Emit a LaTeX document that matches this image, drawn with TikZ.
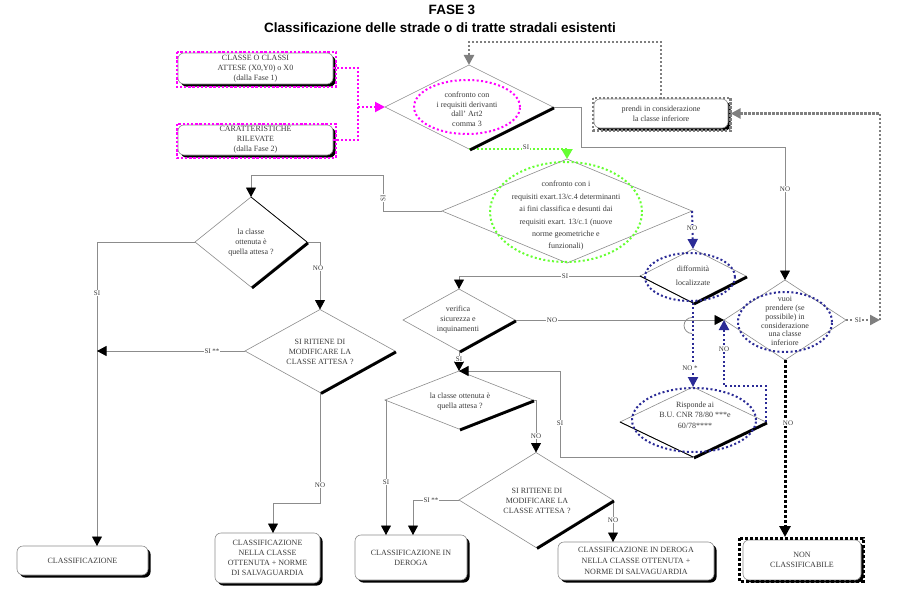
\documentclass[tikz,border=0pt]{standalone}
\usepackage{fontspec}
\setmainfont{Liberation Serif}
\newfontfamily\headfont{Liberation Sans}
\usetikzlibrary{arrows.meta,shapes.geometric,shadows,calc}

\definecolor{wire}{HTML}{8C8C8C}
\definecolor{ink}{HTML}{3A3A3A}
\definecolor{magdot}{HTML}{FF00FF}
\definecolor{grndot}{HTML}{66FF33}
\definecolor{bludot}{HTML}{2B2B96}
\definecolor{grydot}{HTML}{7F7F7F}

\tikzset{
  txt/.style={align=center, text=ink, inner sep=0pt, font=\fontsize{8}{#1}\selectfont},
  txt/.default=10,
  dia/.style 2 args={diamond, draw=wire, line width=0.6pt, minimum width=#1pt,
    minimum height=#2pt, inner sep=0pt, outer sep=0pt},
  box/.style 2 args={rectangle, rounded corners=6pt, draw=wire, line width=0.6pt,
    fill=white, minimum width=#1pt, minimum height=#2pt, inner sep=0pt, outer sep=0pt,
    align=center, text=ink, font=\fontsize{8}{10}\selectfont,
    drop shadow={shadow xshift=2.6pt, shadow yshift=-2.6pt, fill=black, opacity=1}},
  oval/.style 2 args={ellipse, minimum width=#1pt, minimum height=#2pt, inner sep=0pt,
    line width=2pt, dash pattern=on 2pt off 2.4pt},
  heavy/.style={line width=2.8pt, black},
  wireline/.style={draw=wire, line width=0.8pt},
  blackhead/.style={-{Triangle[length=9.5pt,width=10pt,color=black]}},
  magline/.style={draw=magdot, line width=2pt, dash pattern=on 2pt off 2pt},
  maghead/.style={-{Triangle[length=10pt,width=10pt,color=magdot]}},
  grnline/.style={draw=grndot, line width=2pt, dash pattern=on 2pt off 2pt},
  grnhead/.style={-{Triangle[length=10pt,width=11pt,color=grndot]}},
  bluline/.style={draw=bludot, line width=2pt, dash pattern=on 2pt off 2.4pt},
  bluhead/.style={-{Triangle[length=10pt,width=10pt,color=bludot]}},
  gryline/.style={draw=grydot, line width=2.4pt, dash pattern=on 2.4pt off 1.6pt},
  gryhead/.style={-{Triangle[length=10pt,width=10pt,color=grydot]}},
  blkline/.style={draw=black, line width=3pt, dash pattern=on 3pt off 2pt},
  blkhead/.style={-{Triangle[length=11pt,width=11pt,color=black]}},
  lbl/.style={fill=white, inner sep=0.8pt, text=ink, font=\fontsize{7}{8}\selectfont},
}

\begin{document}
\begin{tikzpicture}[x=1pt,y=-1pt]
\useasboundingbox (0,0) rectangle (920,591);

% ---------- title ----------
\node[font=\headfont\bfseries\fontsize{13.5}{15}\selectfont] (title) at (452,10) {FASE 3};
\node[font=\headfont\bfseries\fontsize{13.5}{15}\selectfont] (subtitle) at (440,28) {Classificazione delle strade o di tratte stradali esistenti};

% ---------- decision diamonds ----------
\node[dia={168}{84}]  (D1)  at (469,107) {};
\node[dia={250}{104}] (D2)  at (567,211) {};
\node[dia={112}{90}]  (D3)  at (251,242) {};
\node[dia={150}{83}]  (D4)  at (320,351) {};
\node[dia={112}{62}]  (D5)  at (459,320) {};
\node[dia={148}{58}]  (D6)  at (459,400) {};
\node[dia={154}{95}]  (D7)  at (536,500) {};
\node[dia={122}{80}]  (D8)  at (785,320) {};
\node[dia={106}{54}]  (D9)  at (693,276) {};
\node[dia={146}{70}]  (D10) at (693,422) {};

% ---------- rounded boxes ----------
\node[box={155}{31}] (A) at (255.5,68.5) {CLASSE O CLASSI\\ATTESE (X0,Y0) o X0\\(dalla Fase 1)};
\node[box={155}{30}] (B) at (255.5,140) {CARATTERISTICHE\\RILEVATE\\(dalla Fase 2)};
\node[box={134}{29}] (P) at (661,113.5) {prendi in considerazione\\la classe inferiore};
\node[box={131}{29}] (CL1) at (82.5,560.5) {CLASSIFICAZIONE};
\node[box={105}{50}] (CL2) at (267.5,558) {CLASSIFICAZIONE\\NELLA CLASSE\\OTTENUTA + NORME\\DI SALVAGUARDIA};
\node[box={112}{45}] (DER) at (411,557.5) {CLASSIFICAZIONE IN\\DEROGA};
\node[box={156}{38}, font=\fontsize{8}{11}\selectfont] (B4) at (636,561) {CLASSIFICAZIONE IN DEROGA\\NELLA CLASSE OTTENUTA +\\NORME DI SALVAGUARDIA};
\node[box={118}{40}] (NON) at (802,560) {NON\\CLASSIFICABILE};

% dotted frames around some boxes
\draw[magline, line width=2.4pt, dash pattern=on 2.4pt off 1.8pt]
  ($(A.north west)+(-1,-1)$) rectangle ($(A.south east)+(3,3)$);
\draw[magline, line width=2.4pt, dash pattern=on 2.4pt off 1.8pt]
  ($(B.north west)+(-1,-1)$) rectangle ($(B.south east)+(3,3)$);
\draw[gryline] ($(P.north west)+(-1,-1)$) rectangle ($(P.south east)+(2.5,2.5)$);
\draw[blkline] ($(NON.north west)+(-4,-2)$) rectangle ($(NON.south east)+(2,1)$);

% ---------- connectors ----------
\coordinate (J) at (358,107);
\draw[magline] (A.east) -| (J);
\draw[magline] (B.east) -| (J);
\draw[magline, maghead] (J) -- (D1.west);

\coordinate (L1) at (661,42);
\draw[gryline, gryhead] (P.north) -- (L1) -| (D1.north);
\coordinate (R1) at (880,320);
\draw[gryline, gryhead] (D8.east) -- (R1);
\draw[gryline, gryhead] (R1) |- ($(P.east)+(2.6,0)$);

\coordinate (N1) at (581,147);
\draw[wireline, blackhead] (D1.east) -| (N1) -| (D8.north);

\draw[grnline, grnhead] (D1.south) -- (D1.south -| D2.north) -- (D2.north);

\coordinate (S2) at (383,175);
\draw[wireline, blackhead] (D2.west) -| (S2) -| (D3.north);

\coordinate (C1in) at (97,546);
\draw[wireline, blackhead] (D3.west) -| (C1in);
\draw[wireline, blackhead] (D3.east) -| (D4.north);
\draw[wireline, blackhead] (D4.west) -- (D4.west -| C1in);

\coordinate (C2in) at (273,533);
\coordinate (C2k) at (273,503);
\draw[wireline, blackhead] (D4.south) |- (C2k) -- (C2in);

\draw[bluline, bluhead] (D2.east) -- (D9.north);
\draw[wireline, blackhead] (D9.west) -| (D5.north);
\draw[wireline, blackhead] (D5.east) -- (D8.west);
\draw[wireline] (692,317.5) arc[start angle=270, end angle=90, radius=8];
\draw[bluline, bluhead] (D9.south) -- (D10.north);

\coordinate (B1) at (724,386);
\draw[bluline, bluhead] (D10.east) |- (B1) -- (D8.west);

\coordinate (Nin) at (785,537);
\draw[blkline, blkhead] (D8.south) -- (Nin);

\coordinate (S10) at (560,371);
\draw[wireline, blackhead] (D10.south) -| (S10) -- (D6.north);
\draw[wireline, blackhead] (D5.south) -- (D6.north);

\coordinate (Din1) at (386,535);
\draw[wireline, blackhead] (D6.west) -| (Din1);
\draw[wireline, blackhead] (D6.east) -| (D7.north);
\coordinate (Din2) at (413,535);
\draw[wireline, blackhead] (D7.west) -| (Din2);
\coordinate (B4in) at (613,542);
\draw[wireline, blackhead] (D7.east) -| (B4in);

% ---------- shaded diamond edges ----------
\foreach \d in {D1,D3,D4,D5,D6,D7,D9,D10}
  \draw[heavy] ([shift={(1,1)}]\d.east) -- ([shift={(1,1)}]\d.south);
\draw[black, line width=0.9pt] (D9.west) -- (D9.south);
\draw[black, line width=0.9pt] (D10.west) -- (D10.south);
\draw[black, line width=0.7pt] (D3.north) -- (D3.east);

% ---------- dotted ovals ----------
\node[oval={106}{54}, draw=magdot]  (E1)  at (467,107) {};
\node[oval={152}{100}, draw=grndot] (E2)  at (566,212) {};
\node[oval={94}{60}, draw=bludot]   (E8)  at (785,322) {};
\node[oval={90}{48}, draw=bludot]   (E9)  at (690,277) {};
\node[oval={124}{64}, draw=bludot]  (E10) at (694,420) {};

% ---------- diamond texts ----------
\node[txt=9.5]  (T1)  at (467,109) {confronto con\\i requisiti derivanti\\dall' Art2\\comma 3};
\node[txt=12.4] (T2)  at (566,216) {confronto con i\\requisiti exart.13/c.4 determinanti\\ai fini classifica e desunti dai\\requisiti exart. 13/c.1 (nuove\\norme geometriche e\\funzionali)};
\node[txt=10]   (T3)  at (251,243) {la classe\\ottenuta è\\quella attesa ?};
\node[txt=10]   (T4)  at (320,352) {SI RITIENE DI\\MODIFICARE LA\\CLASSE ATTESA ?};
\node[txt=10]   (T5)  at (458,320) {verifica\\sicurezza e\\inquinamenti};
\node[txt=10]   (T6)  at (460,402) {la classe ottenuta è\\quella attesa ?};
\node[txt=10]   (T7)  at (537,501) {SI RITIENE DI\\MODIFICARE LA\\CLASSE ATTESA ?};
\node[txt=8.8]  (T8)  at (785,321) {vuoi\\prendere (se\\possibile) in\\considerazione\\una classe\\inferiore};
\node[txt=14]   (T9)  at (693,276) {difformità\\localizzate};
\node[txt=10.5] (T10) at (695,415) {Risponde ai\\B.U. CNR 78/80 ***e\\60/78****};

% ---------- connector labels ----------
\node[lbl] (l1)  at (785,189) {NO};
\node[lbl] (l2)  at (526,147) {SI};
\node[lbl, rotate=90] (l3) at (383,198) {SI};
\node[lbl] (l4)  at (97,293) {SI};
\node[lbl] (l5)  at (318,268) {NO};
\node[lbl] (l6)  at (212,351) {SI **};
\node[lbl] (l7)  at (320,485) {NO};
\node[lbl] (l8)  at (692,228) {NO};
\node[lbl] (l9)  at (565,276) {SI};
\node[lbl] (l10) at (552,320) {NO};
\node[lbl] (l11) at (690,368) {NO *};
\node[lbl] (l12) at (724,349) {NO};
\node[lbl] (l13) at (788,423) {NO};
\node[lbl] (l14) at (560,423) {SI};
\node[lbl] (l15) at (459,359) {SI};
\node[lbl] (l16) at (386,482) {SI};
\node[lbl] (l17) at (536,436) {NO};
\node[lbl] (l18) at (431,500) {SI **};
\node[lbl] (l19) at (613,520) {NO};
\node[lbl] (l20) at (858,320) {SI};
\end{tikzpicture}
\end{document}
